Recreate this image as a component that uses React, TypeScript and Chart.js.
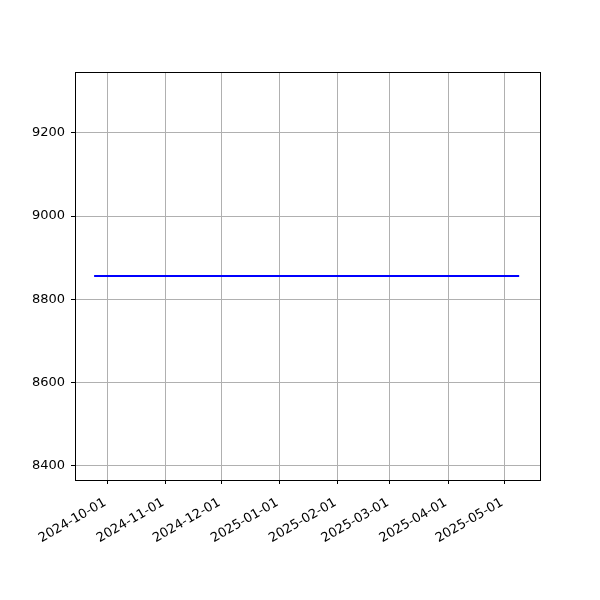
import React, { useEffect, useRef } from "react";
import { Chart, registerables } from "chart.js";

Chart.register(...registerables);

const dates = ["2024-09-24", "2025-05-09"];
const values = [8856, 8856];
const xTickLabels = [
  "2024-10-01",
  "2024-11-01",
  "2024-12-01",
  "2025-01-01",
  "2025-02-01",
  "2025-03-01",
  "2025-04-01",
  "2025-05-01",
];
const yTickValues = [8400, 8600, 8800, 9000, 9200];
const xRange = ["2024-09-13T19:00:00Z", "2025-05-20T03:00:00Z"];
const yRange = [8366, 9346];

const toMs = (s: string) => Date.parse(s.length === 10 ? s + "T00:00:00Z" : s);

const framePlugin = {
  id: "frame",
  afterDraw(chart: any) {
    const { ctx, chartArea } = chart;
    ctx.save();
    ctx.strokeStyle = "#000000";
    ctx.lineWidth = 1;
    ctx.strokeRect(
      Math.round(chartArea.left) + 0.5,
      Math.round(chartArea.top) + 0.5,
      Math.round(chartArea.right - chartArea.left),
      Math.round(chartArea.bottom - chartArea.top)
    );
    ctx.restore();
  },
};

export default function App() {
  const ref = useRef<HTMLCanvasElement | null>(null);
  useEffect(() => {
    if (!ref.current) return;
    const font = { family: "'DejaVu Sans', sans-serif", size: 13 };
    const chart = new Chart(ref.current, {
      type: "line",
      data: {
        datasets: [
          {
            data: dates.map((d, i) => ({ x: toMs(d), y: values[i] })),
            borderColor: "#0000ff",
            borderWidth: 2,
            pointRadius: 0,
            fill: false,
            tension: 0,
          },
        ],
      },
      options: {
        animation: false,
        responsive: false,
        devicePixelRatio: 1,
        layout: { padding: { top: 72, right: 60, left: 0, bottom: 0 } },
        plugins: {
          legend: { display: false },
          tooltip: { enabled: false },
        },
        scales: {
          x: {
            type: "linear",
            min: toMs(xRange[0]),
            max: toMs(xRange[1]),
            afterFit: (s: any) => {
              s.height = 120;
            },
            afterBuildTicks: (s: any) => {
              s.ticks = xTickLabels.map((l) => ({ value: toMs(l) }));
            },
            grid: {
              color: "#b0b0b0",
              lineWidth: 1,
              tickLength: 4,
              tickColor: "#000000",
            },
            border: { display: false },
            ticks: {
              autoSkip: false,
              minRotation: 30,
              maxRotation: 30,
              padding: 11,
              labelOffset: -2,
              color: "#000000",
              font,
              callback: (v: any) => {
                const idx = xTickLabels.findIndex((l) => toMs(l) === v);
                return idx >= 0 ? xTickLabels[idx] : "";
              },
            },
          },
          y: {
            type: "linear",
            min: yRange[0],
            max: yRange[1],
            afterFit: (s: any) => {
              s.width = 75;
            },
            afterBuildTicks: (s: any) => {
              s.ticks = yTickValues.map((v) => ({ value: v }));
            },
            grid: {
              color: "#b0b0b0",
              lineWidth: 1,
              tickLength: 4,
              tickColor: "#000000",
            },
            border: { display: false },
            ticks: {
              padding: 6,
              color: "#000000",
              font,
              callback: (v: any) => String(v),
            },
          },
        },
      },
      plugins: [framePlugin],
    });
    return () => chart.destroy();
  }, []);
  return (
    <div style={{ position: "absolute", left: 0, top: 0, width: 600, height: 600, background: "#ffffff" }}>
      <canvas ref={ref} width={600} height={600} style={{ display: "block" }} />
    </div>
  );
}
